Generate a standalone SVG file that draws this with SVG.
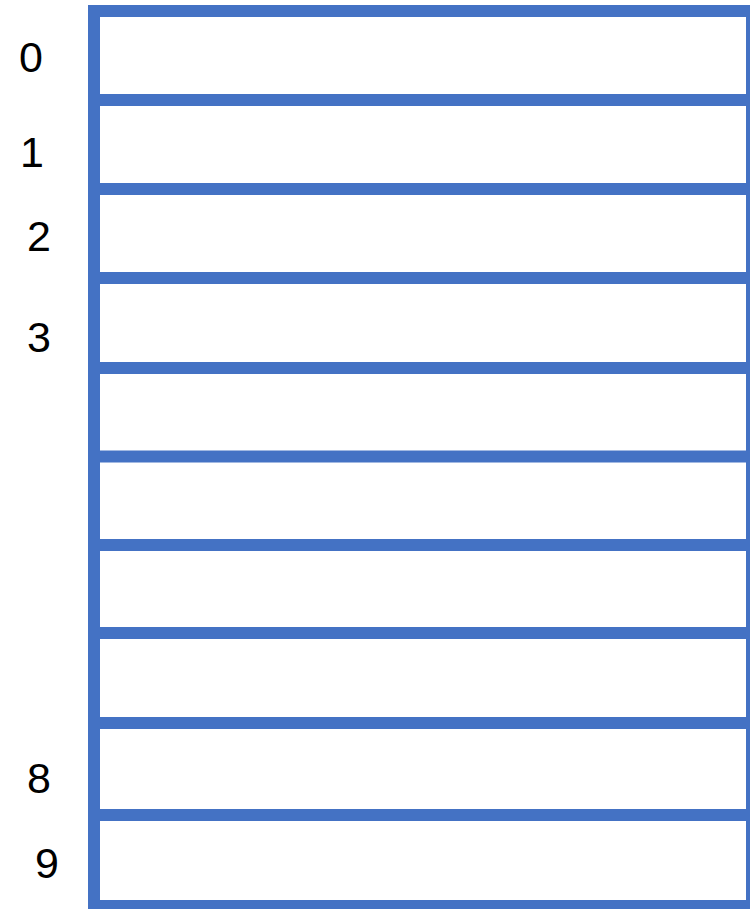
<svg xmlns="http://www.w3.org/2000/svg" width="750" height="909" viewBox="0 0 750 909">
<style>
.b{fill:none;stroke:#4472C4;stroke-width:12}
.s{stroke:#4472C4;stroke-width:12}
.t{font-family:"Liberation Sans",Arial,sans-serif;font-size:43px;fill:#000;text-anchor:middle}
</style>
<rect width="750" height="909" fill="#fff"/>
<g id="array">
<rect class="b" x="94" y="11" width="658" height="895"/>
<line class="s" x1="94" y1="100" x2="752" y2="100"/>
<line class="s" x1="94" y1="189" x2="752" y2="189"/>
<line class="s" x1="94" y1="278" x2="752" y2="278"/>
<line class="s" x1="94" y1="368" x2="752" y2="368"/>
<line class="s" x1="94" y1="456.5" x2="752" y2="456.5"/>
<line class="s" x1="94" y1="545" x2="752" y2="545"/>
<line class="s" x1="94" y1="633" x2="752" y2="633"/>
<line class="s" x1="94" y1="723" x2="752" y2="723"/>
<line class="s" x1="94" y1="815" x2="752" y2="815"/>
</g>
<g id="labels">
<text class="t" x="31" y="72">0</text>
<text class="t" x="32" y="167">1</text>
<text class="t" x="39" y="251">2</text>
<text class="t" x="39" y="352">3</text>
<text class="t" x="39" y="793">8</text>
<text class="t" x="47" y="878">9</text>
</g>
</svg>
